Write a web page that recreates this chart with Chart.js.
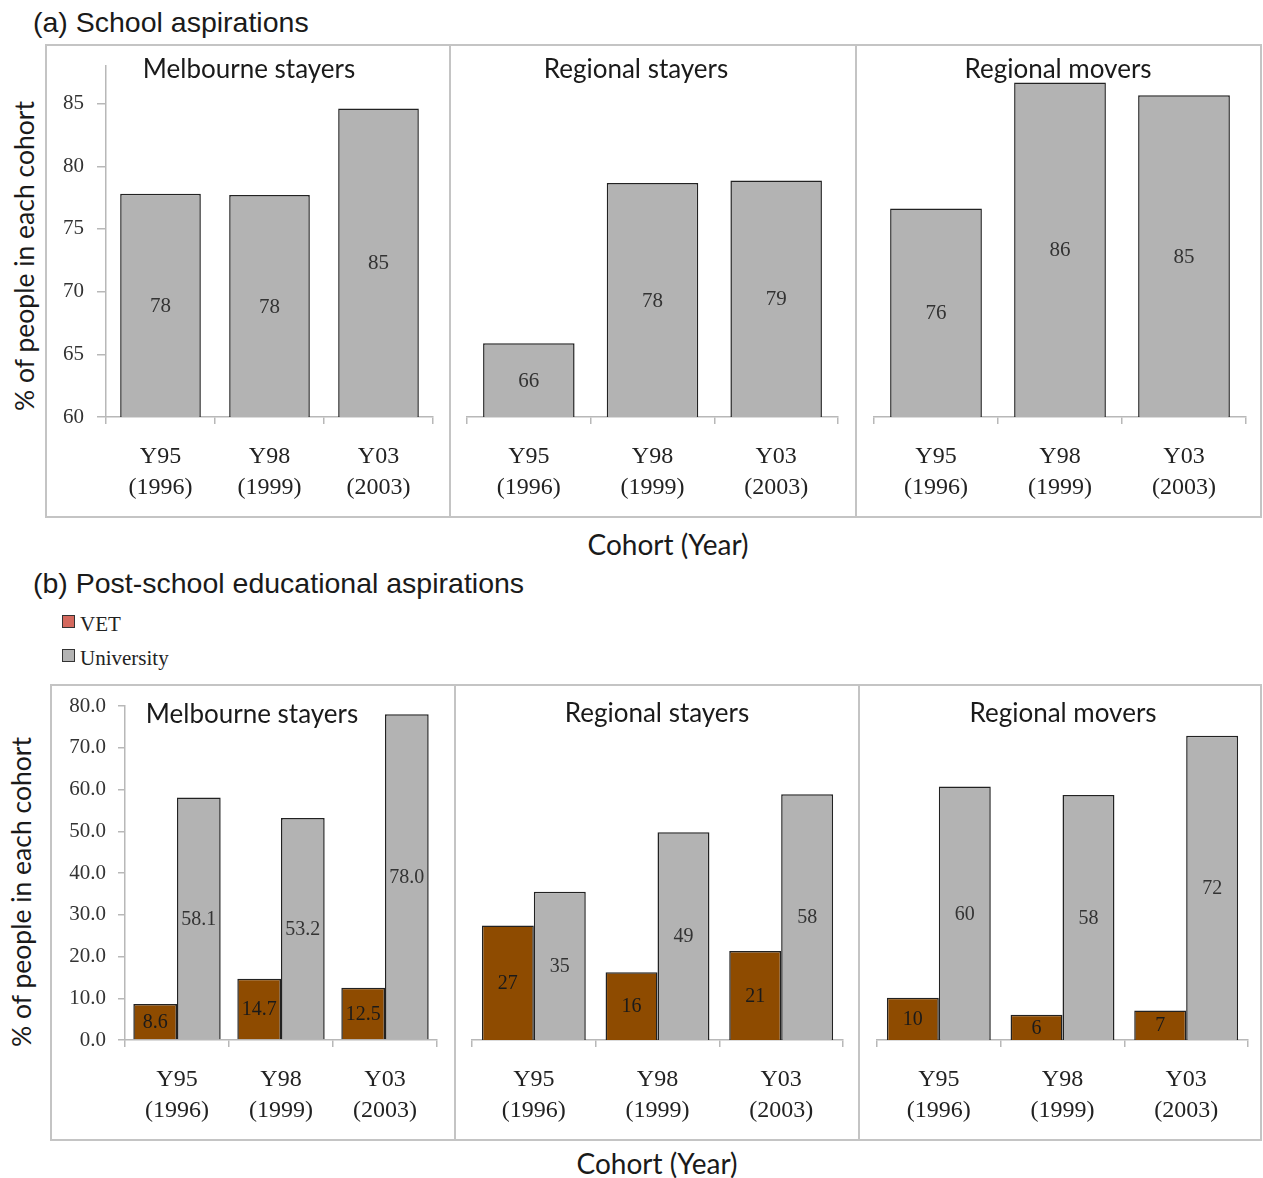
<!DOCTYPE html>
<html>
<head>
<meta charset="utf-8">
<title>School and post-school aspirations by cohort</title>
<script src="https://cdn.jsdelivr.net/npm/chart.js@4.4.1/dist/chart.umd.min.js"></script>
<style>
  body { margin: 0; background: #fff; }
  #page { position: relative; width: 1263px; height: 1178px; overflow: hidden; background: #fff; }
  .txt { position: absolute; white-space: nowrap; color: #1a1a1a; line-height: 1; }
  .sec { font-family: "Liberation Sans", Arial, sans-serif; font-size: 28.5px; transform: translateY(-50%); }
  .gill { font-family: Lato, "Open Sans", sans-serif; font-size: 26px; transform: translate(-50%, -50%); }
  .axt { font-family: Lato, "Open Sans", sans-serif; font-size: 28px; transform: translate(-50%, -50%); }
  .ytitle { font-family: Lato, "Open Sans", sans-serif; font-size: 26.5px; transform: translate(-50%, -50%) rotate(-90deg); }
  .leg { font-family: "Liberation Serif", "Times New Roman", serif; font-size: 21px; transform: translateY(-50%); color: #222; }
  .sw { position: absolute; width: 11px; height: 11px; border: 1.5px solid #333; }
  .frame { position: absolute; border: 2px solid #c4c4c4; box-sizing: border-box; }
  .vline { position: absolute; width: 2px; background: #c4c4c4; }
  canvas { position: absolute; }
</style>
</head>
<body>
<div id="page">
  <!-- panel frames -->
  <div class="frame" style="left:45px;top:44px;width:1217px;height:474px;"></div>
  <div class="vline" style="left:449px;top:44px;height:474px;"></div>
  <div class="vline" style="left:855px;top:44px;height:474px;"></div>
  <div class="frame" style="left:50px;top:684px;width:1212px;height:457px;"></div>
  <div class="vline" style="left:454px;top:684px;height:457px;"></div>
  <div class="vline" style="left:858px;top:684px;height:457px;"></div>

  <canvas id="a1"></canvas><canvas id="a2"></canvas><canvas id="a3"></canvas>
  <canvas id="b1"></canvas><canvas id="b2"></canvas><canvas id="b3"></canvas>

  <div class="txt sec" style="left:33px;top:22px;">(a) School aspirations</div>
  <div class="txt sec" style="left:33px;top:583px;">(b) Post-school educational aspirations</div>

  <div class="txt gill" id="ta1" style="left:249px;top:68px;"></div>
  <div class="txt gill" id="ta2" style="left:636px;top:68px;"></div>
  <div class="txt gill" id="ta3" style="left:1058px;top:68px;"></div>
  <div class="txt gill" id="tb1" style="left:252px;top:713px;"></div>
  <div class="txt gill" id="tb2" style="left:657px;top:712px;"></div>
  <div class="txt gill" id="tb3" style="left:1063px;top:712px;"></div>

  <div class="txt ytitle" style="left:24px;top:256px;">% of people in each cohort</div>
  <div class="txt ytitle" style="left:21px;top:892px;">% of people in each cohort</div>
  <div class="txt axt" style="left:668px;top:544px;">Cohort (Year)</div>
  <div class="txt axt" style="left:657px;top:1163px;">Cohort (Year)</div>

  <div class="sw" id="swVet" style="left:62px;top:615px;"></div>
  <div class="txt leg" id="lgVet" style="left:80px;top:624px;"></div>
  <div class="sw" id="swUni" style="left:62px;top:649px;"></div>
  <div class="txt leg" id="lgUni" style="left:80px;top:658px;"></div>
</div>

<script>
// ---- data ----
const cohortLabels = [['Y95', '(1996)'], ['Y98', '(1999)'], ['Y03', '(2003)']];
const groupNames = ['Melbourne stayers', 'Regional stayers', 'Regional movers'];
const seriesNames = ['VET', 'University'];

// (a) school aspirations, % of each cohort
const schoolMelbourneStayers = [77.8, 77.7, 84.6];
const schoolRegionalStayers = [65.8, 78.4, 78.6];
const schoolRegionalMovers = [76.4, 86.3, 85.3];

// (b) post-school educational aspirations, % of each cohort
const vetMelbourneStayers = [8.6, 14.7, 12.5];
const uniMelbourneStayers = [58.1, 53.2, 78.0];
const vetRegionalStayers = [27, 16, 21];
const uniRegionalStayers = [35, 49, 58];
const vetRegionalMovers = [10, 6, 7];
const uniRegionalMovers = [60, 58, 72];

const schoolTicks = [60, 65, 70, 75, 80, 85];
const postTicks = [0, 10, 20, 30, 40, 50, 60, 70, 80];

// ---- styling ----
const GREY = '#b3b3b3';
const BROWN = '#8e4b00';
const EDGE = '#222222';
const AXIS = '#b8b8b8';
const SERIF = '"Liberation Serif", "Times New Roman", serif';

// text labels
['ta1', 'ta2', 'ta3'].forEach((id, i) => document.getElementById(id).textContent = groupNames[i]);
['tb1', 'tb2', 'tb3'].forEach((id, i) => document.getElementById(id).textContent = groupNames[i]);
document.getElementById('lgVet').textContent = seriesNames[0];
document.getElementById('lgUni').textContent = seriesNames[1];
document.getElementById('swVet').style.background = '#d4695e';
document.getElementById('swUni').style.background = GREY;

// values written in the middle of the visible part of each bar
const barValueLabels = {
  id: 'barValueLabels',
  afterDatasetsDraw(chart) {
    const ctx = chart.ctx;
    const floor = chart.chartArea.bottom;
    ctx.save();
    ctx.textAlign = 'center';
    ctx.textBaseline = 'middle';
    chart.data.datasets.forEach((ds, i) => {
      const meta = chart.getDatasetMeta(i);
      ctx.font = ds.valueSize + 'px ' + SERIF;
      ctx.fillStyle = ds.valueColor;
      meta.data.forEach((bar, j) => {
        const p = bar.getProps(['x', 'y', 'base'], true);
        const base = Math.min(p.base, floor);
        ctx.fillText(ds.data[j].toFixed(ds.valueDigits), p.x, (p.y + base) / 2 + 1);
      });
    });
    ctx.restore();
  }
};

// box: canvas rectangle on the page; area: plot rectangle on the page
function panel(id, box, area, datasets, ySpec, showY, barOpts) {
  const cv = document.getElementById(id);
  cv.width = box.w; cv.height = box.h;
  cv.style.left = box.x + 'px'; cv.style.top = box.y + 'px';
  cv.style.width = box.w + 'px'; cv.style.height = box.h + 'px';
  return new Chart(cv, {
    type: 'bar',
    data: {
      labels: cohortLabels,
      datasets: datasets.map(d => Object.assign({
        borderColor: EDGE,
        borderWidth: 1.5,
        categoryPercentage: barOpts.cat,
        barPercentage: barOpts.bar
      }, d))
    },
    options: {
      responsive: false,
      animation: false,
      devicePixelRatio: 1,
      layout: {
        autoPadding: false,
        padding: {
          left: showY ? 0 : area.l - box.x,
          right: box.x + box.w - area.r,
          top: area.t - box.y,
          bottom: 0
        }
      },
      plugins: {
        legend: { display: false },
        tooltip: { enabled: false }
      },
      scales: {
        x: {
          offset: true,
          afterFit: s => {
            s.height = box.y + box.h - area.b;
            s.paddingLeft = 0; s.paddingRight = 0;
          },
          border: { display: true, color: AXIS, width: 1.5 },
          grid: { offset: true, drawOnChartArea: false, drawTicks: true, tickLength: 7, color: AXIS, lineWidth: 1.5 },
          ticks: {
            padding: 17, color: '#222', maxRotation: 0, autoSkip: false,
            font: { family: SERIF, size: 24, lineHeight: 1.3 }
          }
        },
        y: {
          display: showY,
          min: ySpec.min,
          max: ySpec.max,
          afterBuildTicks: s => { s.ticks = ySpec.ticks.map(v => ({ value: v })); },
          afterFit: s => {
            if (showY) s.width = area.l - box.x;
            s.paddingTop = 0; s.paddingBottom = 0;
          },
          border: { display: true, color: AXIS, width: 1.5 },
          grid: { drawOnChartArea: false, drawTicks: true, tickLength: ySpec.tickLen, color: AXIS, lineWidth: 1.5 },
          ticks: {
            padding: ySpec.pad, color: '#333',
            font: { family: SERIF, size: 21 },
            callback: v => ySpec.fmt(v)
          }
        }
      }
    },
    plugins: [barValueLabels]
  });
}

const schoolY = { min: 60, max: 88, ticks: schoolTicks, fmt: v => String(v), tickLen: 9, pad: 13 };
const postY = { min: 0, max: 80, ticks: postTicks, fmt: v => v.toFixed(1), tickLen: 7, pad: 12 };
const singleBar = { cat: 1, bar: 0.74 };
const pairBars = { cat: 0.84, bar: 1 };

const school = data => [
  { label: 'School', data, backgroundColor: GREY, valueColor: '#333', valueSize: 21, valueDigits: 0 }
];
const post = (vet, uni, digits) => [
  { label: seriesNames[0], data: vet, backgroundColor: BROWN, valueColor: '#1a1a1a', valueSize: 20, valueDigits: digits },
  { label: seriesNames[1], data: uni, backgroundColor: GREY, valueColor: '#333', valueSize: 20, valueDigits: digits }
];

// (a) school aspirations
panel('a1', { x: 47, y: 46, w: 401, h: 470 }, { l: 106, r: 433, t: 66, b: 417 },
  school(schoolMelbourneStayers), schoolY, true, singleBar);
panel('a2', { x: 452, y: 46, w: 402, h: 470 }, { l: 467, r: 838, t: 61, b: 417 },
  school(schoolRegionalStayers), schoolY, false, singleBar);
panel('a3', { x: 858, y: 46, w: 402, h: 470 }, { l: 874, r: 1246, t: 61, b: 417 },
  school(schoolRegionalMovers), schoolY, false, singleBar);

// (b) post-school educational aspirations
panel('b1', { x: 52, y: 686, w: 401, h: 453 }, { l: 125, r: 437, t: 706, b: 1040 },
  post(vetMelbourneStayers, uniMelbourneStayers, 1), postY, true, pairBars);
panel('b2', { x: 457, y: 686, w: 400, h: 453 }, { l: 472, r: 843, t: 701, b: 1040 },
  post(vetRegionalStayers, uniRegionalStayers, 0), postY, false, pairBars);
panel('b3', { x: 861, y: 686, w: 399, h: 453 }, { l: 877, r: 1248, t: 702, b: 1040 },
  post(vetRegionalMovers, uniRegionalMovers, 0), postY, false, pairBars);
</script>
</body>
</html>
